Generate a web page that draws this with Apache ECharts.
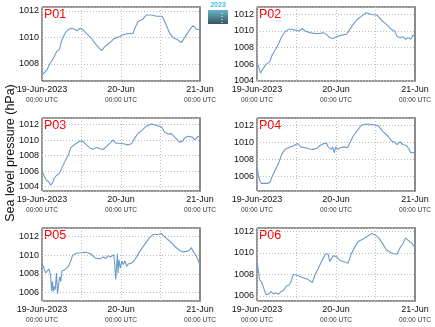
<!DOCTYPE html>
<html>
<head>
<meta charset="utf-8">
<script src="https://cdn.jsdelivr.net/npm/echarts@6/dist/echarts.min.js"></script>
<style>
  html, body { margin: 0; padding: 0; background: #fff; }
  #chart { width: 435px; height: 327px; }
</style>
</head>
<body>
<div id="chart"></div>
<script>
// Sea level pressure at six stations, 19-21 June 2023.
// Each record: [hours since 19-Jun-2023 00:00 UTC, pressure in hPa]
const p01 = [[0.2,1007.2],[1.4,1007.5],[2.4,1008.0],[3.4,1008.4],[4.4,1008.9],[5.3,1009.1],[6.0,1009.8],[7.0,1010.3],[8.0,1010.6],[9.0,1010.7],[10.0,1010.6],[10.7,1010.5],[11.5,1010.7],[12.3,1010.6],[13.5,1010.3],[15.1,1009.9],[16.6,1009.4],[18.1,1009.0],[19.1,1009.3],[20.1,1009.5],[21.1,1009.7],[21.8,1009.9],[23.0,1010.0],[24.7,1010.2],[26.2,1010.3],[27.7,1010.3],[28.2,1010.7],[29.2,1011.2],[30.7,1011.4],[31.7,1011.7],[33.2,1011.7],[34.8,1011.6],[36.5,1011.6],[37.8,1010.9],[38.8,1010.3],[39.8,1010.0],[41.3,1009.8],[42.3,1009.6],[43.4,1010.0],[44.9,1010.6],[45.9,1010.9],[46.9,1010.6],[47.9,1010.6]];
const p02 = [[0.1,1006.1],[0.6,1005.5],[1.1,1004.9],[1.6,1005.3],[2.1,1005.1],[2.6,1005.9],[3.2,1005.7],[3.9,1006.3],[4.6,1007.1],[5.5,1007.7],[6.5,1008.4],[7.5,1009.3],[8.5,1009.9],[9.5,1010.2],[10.5,1010.2],[11.5,1010.1],[12.7,1010.0],[13.7,1010.3],[14.6,1010.0],[16.1,1009.8],[17.6,1009.7],[19.1,1009.7],[20.1,1009.8],[21.1,1009.6],[22.1,1009.2],[23.0,1009.1],[24.2,1009.3],[25.7,1009.5],[27.2,1009.6],[28.2,1010.2],[29.2,1010.8],[30.2,1011.3],[31.7,1011.8],[33.2,1012.2],[34.8,1012.0],[36.5,1011.9],[37.8,1011.3],[39.3,1010.8],[40.8,1010.2],[41.8,1010.0],[42.6,1009.3],[43.7,1009.2],[44.4,1009.3],[45.1,1009.0],[45.9,1009.2],[46.7,1009.0],[47.4,1009.5],[47.9,1009.4]];
const p03 = [[0.1,1006.05],[0.7,1005.3],[1.4,1004.8],[2.1,1004.6],[2.6,1004.2],[3.2,1004.5],[3.7,1005.1],[4.4,1005.45],[5.3,1005.75],[6.0,1006.4],[7.0,1007.3],[8.0,1008.1],[8.7,1009.0],[9.5,1009.3],[10.5,1009.6],[11.5,1009.9],[12.5,1009.85],[13.5,1009.4],[14.6,1009.0],[15.6,1008.85],[16.6,1009.1],[17.6,1008.9],[18.6,1008.8],[19.6,1009.2],[20.6,1009.6],[21.6,1010.05],[22.4,1009.6],[23.3,1009.6],[24.7,1009.55],[26.2,1009.4],[27.2,1009.55],[28.2,1010.3],[29.2,1010.9],[30.2,1011.2],[31.7,1011.8],[33.2,1012.1],[34.8,1011.9],[36.3,1011.7],[37.3,1011.0],[38.3,1010.8],[39.3,1010.85],[40.3,1010.4],[41.8,1009.75],[42.6,1009.85],[43.4,1010.3],[44.4,1010.5],[45.7,1010.4],[46.4,1010.05],[47.4,1010.5],[47.9,1010.4]];
const p04 = [[0.1,1007.0],[0.4,1006.2],[0.9,1005.45],[1.4,1005.2],[1.9,1005.4],[2.4,1005.2],[3.2,1005.2],[3.9,1005.3],[4.6,1006.0],[5.5,1006.75],[6.5,1007.5],[7.5,1008.6],[8.5,1009.2],[9.5,1009.4],[11.0,1009.6],[12.3,1009.9],[13.3,1009.5],[14.6,1009.4],[16.1,1009.25],[17.1,1009.2],[18.1,1009.3],[19.1,1009.65],[19.6,1009.5],[20.1,1009.85],[20.6,1009.65],[21.1,1009.95],[21.6,1009.5],[22.1,1009.65],[22.6,1009.2],[23.0,1009.5],[23.5,1008.8],[23.9,1009.5],[24.5,1009.2],[25.2,1009.4],[25.7,1009.25],[26.5,1009.5],[27.5,1009.4],[28.2,1009.95],[29.2,1010.75],[30.2,1011.3],[31.7,1012.05],[33.2,1012.2],[35.3,1012.1],[36.8,1012.0],[38.3,1011.3],[39.8,1010.75],[41.0,1010.15],[41.8,1010.1],[42.6,1009.75],[43.4,1010.1],[44.4,1009.75],[45.4,1009.65],[46.2,1009.25],[46.7,1008.8],[47.2,1009.0],[47.9,1008.85]];
const p05 = [[0.1,1009.05],[0.6,1009.0],[1.1,1008.1],[1.6,1008.2],[2.1,1008.5],[2.6,1007.9],[2.9,1006.2],[3.2,1007.2],[3.4,1006.1],[3.7,1006.65],[4.0,1006.3],[4.4,1008.1],[4.7,1005.85],[5.1,1007.0],[5.4,1007.7],[5.7,1007.2],[6.1,1008.3],[7.0,1008.45],[8.0,1008.8],[8.7,1009.35],[9.3,1010.0],[10.5,1010.2],[12.0,1010.25],[13.3,1010.3],[14.8,1010.15],[16.1,1009.7],[17.6,1009.6],[18.6,1009.8],[19.4,1009.65],[20.1,1009.95],[20.8,1009.8],[21.3,1009.9],[21.8,1010.05],[22.1,1009.0],[22.4,1007.4],[22.7,1009.0],[22.9,1010.15],[23.1,1008.1],[23.4,1009.5],[23.8,1008.6],[24.3,1009.35],[24.7,1009.0],[25.2,1009.4],[25.7,1008.8],[26.2,1009.05],[27.2,1009.15],[28.2,1009.5],[29.7,1010.4],[31.2,1011.15],[32.7,1011.9],[33.8,1012.2],[35.3,1012.2],[36.3,1012.3],[37.3,1011.95],[38.8,1011.5],[40.3,1010.95],[41.8,1010.5],[42.8,1010.35],[43.9,1010.4],[44.7,1010.5],[45.4,1010.8],[45.9,1010.4],[46.9,1009.9],[47.9,1009.05]];
const p06 = [[0.1,1009.0],[0.4,1008.4],[0.6,1008.55],[0.8,1007.5],[1.1,1007.6],[1.4,1007.3],[1.9,1006.85],[2.4,1006.4],[2.9,1006.1],[3.6,1006.2],[4.2,1006.4],[5.0,1006.2],[5.7,1006.3],[6.5,1006.15],[7.3,1006.4],[8.0,1006.5],[8.5,1006.45],[9.0,1006.95],[9.7,1007.0],[10.3,1007.3],[11.0,1008.0],[12.0,1007.95],[13.0,1007.8],[14.0,1007.7],[15.1,1007.6],[16.1,1007.4],[16.8,1007.25],[17.6,1007.95],[18.6,1008.55],[19.6,1009.2],[20.8,1009.9],[21.6,1009.9],[22.1,1009.2],[22.6,1009.35],[23.2,1009.75],[24.2,1009.65],[25.2,1009.3],[26.2,1009.2],[27.7,1009.05],[28.5,1009.8],[29.5,1010.45],[30.7,1011.05],[32.2,1011.3],[33.8,1011.6],[34.8,1011.8],[35.8,1011.7],[37.0,1011.4],[38.3,1010.8],[39.3,1010.3],[40.8,1010.0],[41.8,1009.9],[42.6,1009.9],[43.4,1010.45],[44.4,1010.9],[45.1,1011.4],[45.7,1011.5],[46.4,1011.05],[47.1,1010.9],[47.9,1010.5]];

const stations = ['P01', 'P02', 'P03', 'P04', 'P05', 'P06'];
const stationSeries = [p01, p02, p03, p04, p05, p06];
// pressure extent shown on each panel, hPa
const yExtents = [[1006.7, 1012.3], [1003.95, 1012.9], [1003.45, 1012.86], [1004.3, 1012.9], [1005.1, 1012.9], [1005.53, 1012.32]];
// labelled x ticks (hours) and their texts
const dayHours = [0, 24, 48];
const dayLabels = ['19-Jun-2023', '20-Jun', '21-Jun'];
const timeText = '00:00 UTC';
const yTitle = 'Sea level pressure (hPa)';
const badgeYear = '2023';

// panel boxes: two columns, three rows
const colLeft = [42, 257];
const rowTop = [7, 118, 228];
const rowHeight = [74, 73, 73];
const boxWidth = 158;

const font = '"Liberation Sans", Arial, sans-serif';
const lineColor = '#6b9bcb';

const grids = [], xAxes = [], yAxes = [], series = [], graphics = [];
stations.forEach((name, i) => {
  const col = i % 2, row = Math.floor(i / 2);
  grids.push({
    left: colLeft[col], top: rowTop[row], width: boxWidth, height: rowHeight[row],
    show: true, borderColor: '#2a2a2a', borderWidth: 1, backgroundColor: 'transparent'
  });
  xAxes.push({
    type: 'value', gridIndex: i, min: 0, max: 48, interval: 12,
    axisLine: { show: false }, axisTick: { show: false },
    splitLine: { show: true, lineStyle: { color: '#bdbdbd', type: [1, 2], width: 1 } },
    axisLabel: {
      margin: 4, fontFamily: font, showMinLabel: true, showMaxLabel: true,
      formatter: v => {
        const k = dayHours.indexOf(v);
        return k < 0 ? '' : '{d|' + dayLabels[k] + '}\n{t|' + timeText + '}';
      },
      rich: {
        d: { fontSize: 9, color: '#111', fontFamily: font, lineHeight: 10 },
        t: { fontSize: 6.6, color: '#333', fontFamily: font, lineHeight: 11 }
      }
    }
  });
  yAxes.push({
    type: 'value', gridIndex: i, min: yExtents[i][0], max: yExtents[i][1],
    minInterval: 2, maxInterval: 2, splitNumber: 4, scale: true,
    axisLine: { show: false }, axisTick: { show: false },
    splitLine: { show: true, lineStyle: { color: '#bdbdbd', type: [1, 2], width: 1 } },
    axisLabel: {
      showMinLabel: false, showMaxLabel: false, fontSize: 9, color: '#111', fontFamily: font, margin: 3,
      formatter: v => String(Math.round(v))
    }
  });
  series.push({
    type: 'line', xAxisIndex: i, yAxisIndex: i, data: stationSeries[i],
    showSymbol: false, symbol: 'none', smooth: false,
    lineStyle: { color: lineColor, width: 1.1 }, silent: true, animation: false
  });
  graphics.push({
    type: 'text', left: colLeft[col] + 2, top: rowTop[row] + 1,
    style: { text: name, fill: '#ff0000', font: '12.5px ' + font }
  });
});
// heavier right edge of each panel frame
stations.forEach((name, i) => {
  yAxes.push({
    type: 'value', gridIndex: i, position: 'right',
    axisLine: { show: true, lineStyle: { color: '#8a8a8a', width: 2 } },
    axisTick: { show: false }, axisLabel: { show: false }, splitLine: { show: false }
  });
});

graphics.push({
  type: 'text', x: 11, y: 153, rotation: Math.PI / 2,
  style: { text: yTitle, fill: '#111', font: '12.5px ' + font, align: 'center', verticalAlign: 'middle' }
});
// small year badge at the top
graphics.push({
  type: 'group', left: 208, top: 2,
  children: [
    { type: 'text', x: 10, y: 0, style: { text: badgeYear, fill: '#43c0d8', font: 'bold 7px ' + font, align: 'center' } },
    { type: 'rect', shape: { x: 0, y: 8, width: 20, height: 14 },
      style: { fill: new echarts.graphic.LinearGradient(0, 0, 0, 1, [
        { offset: 0, color: '#66b7c8' }, { offset: 1, color: '#3a5262' }]) } },
    { type: 'line', shape: { x1: 14, y1: 11, x2: 14, y2: 21 },
      style: { stroke: '#ffffff', lineWidth: 1, lineDash: [1, 2] } }
  ]
});

const chart = echarts.init(document.getElementById('chart'), null, { renderer: 'canvas' });
chart.setOption({
  animation: false,
  backgroundColor: '#ffffff',
  grid: grids, xAxis: xAxes, yAxis: yAxes, series: series, graphic: graphics
});
</script>
</body>
</html>
